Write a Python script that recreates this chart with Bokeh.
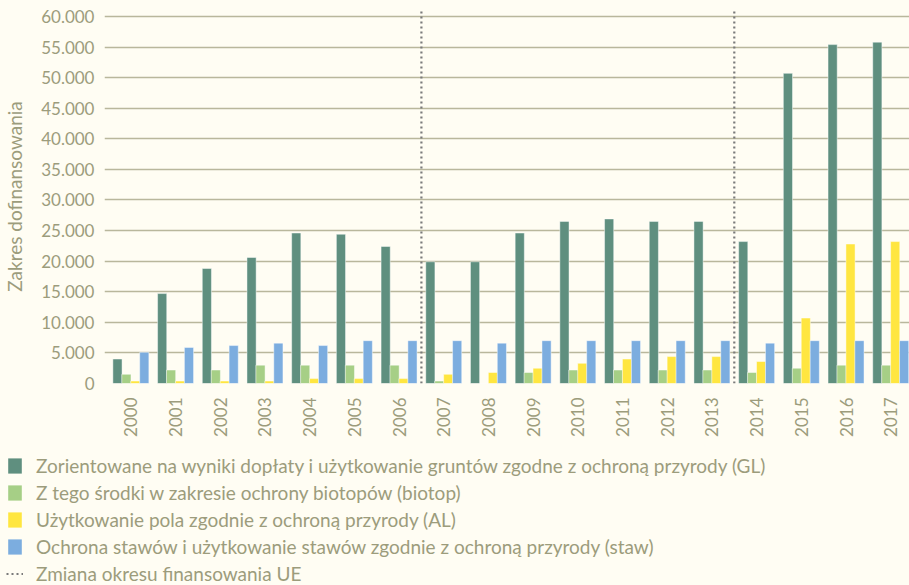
from bokeh.plotting import figure
from bokeh.layouts import column
from bokeh.models import ColumnDataSource, Range1d, Legend, LegendItem, FixedTicker
from bokeh.transform import dodge
from bokeh.embed import file_html
from bokeh.resources import INLINE

years = ["2000", "2001", "2002", "2003", "2004", "2005", "2006", "2007", "2008",
         "2009", "2010", "2011", "2012", "2013", "2014", "2015", "2016", "2017"]
gl = [4000, 14700, 18800, 20600, 24600, 24400, 22400, 19900, 19900,
      24600, 26500, 26900, 26500, 26500, 23200, 50700, 55400, 55800]
biotop = [1500, 2200, 2200, 3000, 3000, 3000, 3000, 400, 0,
          1800, 2200, 2200, 2200, 2200, 1800, 2500, 3000, 3000]
al = [400, 400, 400, 400, 800, 800, 800, 1500, 1800,
      2500, 3300, 4000, 4400, 4400, 3600, 10700, 22800, 23200]
staw = [5100, 5900, 6200, 6600, 6200, 7000, 7000, 7000, 6600,
        7000, 7000, 7000, 7000, 7000, 6600, 7000, 7000, 7000]
period_change_after = ["2006", "2013"]

y_ticks = [0, 5000, 10000, 15000, 20000, 25000, 30000, 35000, 40000,
           45000, 50000, 55000, 60000]
y_tick_labels = ["0", "5.000", "10.000", "15.000", "20.000", "25.000", "30.000",
                 "35.000", "40.000", "45.000", "50.000", "55.000", "60.000"]

labels = [
    "Zorientowane na wyniki dopłaty i użytkowanie gruntów zgodne z ochroną przyrody (GL)",
    "Z tego środki w zakresie ochrony biotopów (biotop)",
    "Użytkowanie pola zgodnie z ochroną przyrody (AL)",
    "Ochrona stawów i użytkowanie stawów zgodnie z ochroną przyrody (staw)",
    "Zmiana okresu finansowania UE",
]
colors = ["#5f8f7f", "#a6cf86", "#ffe640", "#7caddf"]
keys = ["gl", "biotop", "al", "staw"]
offsets = [-0.3, -0.1, 0.1, 0.3]

BG = "#fffdf3"
TXT = "#9c9c7c"
FONT = "Lato"
DOT = dict(line_color="#7a7a7a", line_width=2.2, line_dash="2 3")
Y_TOP = 61140

idx = list(range(len(years)))
src = ColumnDataSource(dict(idx=idx, year=years, gl=gl, biotop=biotop, al=al, staw=staw))

p = figure(width=909, height=448, output_backend="svg", toolbar_location=None,
           x_range=Range1d(-0.59, 17.42), y_range=Range1d(0, Y_TOP),
           min_border_left=104, min_border_right=0, min_border_top=9,
           min_border_bottom=65)
p.frame_align = False
p.background_fill_color = BG
p.border_fill_color = BG
p.outline_line_color = None

for key, off, col in zip(keys, offsets, colors):
    p.vbar(x=dodge("idx", off), top=key, width=0.205, source=src,
           fill_color=col, line_color="white", line_alpha=0.45, line_width=1)

brk_x = [years.index(y) + 0.5 for y in period_change_after]
brk = ColumnDataSource(dict(x=brk_x, y0=[0] * len(brk_x), y1=[Y_TOP] * len(brk_x)))
p.segment(x0="x", x1="x", y0="y0", y1="y1", source=brk, **DOT)

# axes
p.xaxis.ticker = FixedTicker(ticks=idx)
p.xaxis.major_label_overrides = {i: y for i, y in zip(idx, years)}
p.xaxis.major_label_orientation = 1.5708
p.xaxis.axis_line_color = None
p.xaxis.major_tick_line_color = None
p.xaxis.minor_tick_line_color = None
p.xaxis.major_tick_out = 0
p.xaxis.major_tick_in = 0
p.xaxis.major_label_standoff = 14
p.xaxis.major_label_text_font = FONT
p.xaxis.major_label_text_font_size = "17px"
p.xaxis.major_label_text_color = TXT

p.yaxis.ticker = FixedTicker(ticks=y_ticks)
p.yaxis.major_label_overrides = {t: l for t, l in zip(y_ticks, y_tick_labels)}
p.yaxis.axis_line_color = None
p.yaxis.major_tick_line_color = None
p.yaxis.minor_tick_line_color = None
p.yaxis.major_tick_out = 0
p.yaxis.major_tick_in = 0
p.yaxis.major_label_standoff = 10
p.yaxis.major_label_text_font = FONT
p.yaxis.major_label_text_font_size = "17px"
p.yaxis.major_label_text_color = TXT
p.yaxis.axis_label = "Zakres dofinansowania"
p.yaxis.axis_label_text_font = FONT
p.yaxis.axis_label_text_font_style = "normal"
p.yaxis.axis_label_text_font_size = "19px"
p.yaxis.axis_label_text_color = TXT
p.yaxis.axis_label_standoff = 12

p.xgrid.grid_line_color = None
p.ygrid.ticker = FixedTicker(ticks=y_ticks)
p.ygrid.grid_line_color = "#b9b79c"
p.ygrid.grid_line_width = 1.5

# legend panel
lp = figure(width=909, height=137, output_backend="svg", toolbar_location=None,
            x_axis_type=None, y_axis_type=None,
            x_range=Range1d(0, 1), y_range=Range1d(0, 1),
            min_border_left=0, min_border_right=0, min_border_top=0, min_border_bottom=0)
lp.frame_align = False
lp.background_fill_color = BG
lp.border_fill_color = BG
lp.outline_line_color = None
lp.grid.grid_line_color = None

lrs = []
for col in colors:
    lrs.append(lp.vbar(x=[5], top=[5], bottom=[4], width=0.2, fill_color=col, line_color=None))
lrs.append(lp.segment(x0=[5], x1=[6], y0=[5], y1=[5], **DOT))

legend = Legend(items=[LegendItem(label=l, renderers=[r]) for l, r in zip(labels, lrs)],
                location=(6, 0), orientation="vertical",
                padding=0, margin=0, spacing=4,
                glyph_width=17, glyph_height=19, label_height=17,
                label_standoff=13,
                label_text_font=FONT, label_text_font_size="19px",
                label_text_color=TXT,
                border_line_color=None, background_fill_alpha=0)
lp.add_layout(legend, "center")

layout = column(p, lp, spacing=0)
layout.styles = {"background-color": BG}
open("out.html", "w").write(file_html(layout, INLINE))
